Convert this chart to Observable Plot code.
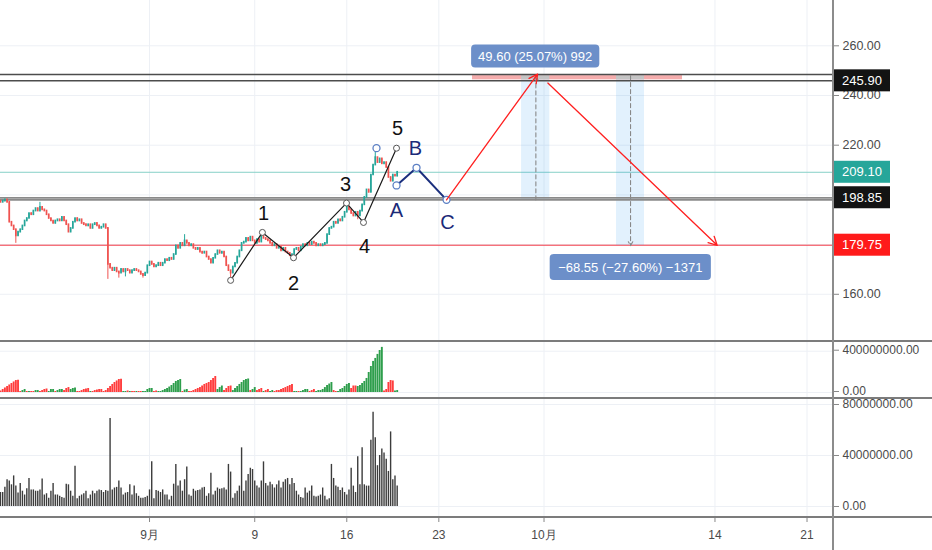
<!DOCTYPE html>
<html><head><meta charset="utf-8">
<script src="https://cdn.jsdelivr.net/npm/d3@7"></script>
<script src="https://cdn.jsdelivr.net/npm/@observablehq/plot@0.6"></script>
<style>
body{margin:0;background:#fff;}
#chart{position:relative;width:932px;height:550px;overflow:hidden;background:#fff;font-family:"Liberation Sans",Arial,sans-serif;}
.panel{position:absolute;left:0;}
.sep{position:absolute;left:0;width:932px;height:2px;background:#7c7c7c;}
.vsep{position:absolute;left:832px;top:0;width:1.5px;height:550px;background:#8c8c8c;}
svg{overflow:visible;}
</style></head><body><div id="chart"></div>
<script>
// ---------- data ----------
const firstTime = "2019-08-20T16:00Z";   // first 4h candle
const candleHours = 4;
const firstOpen = 197.5;
const closes = [
197,197.5,198,197,189,187.5,186,183.5,185,186,
187.5,189.5,190.5,192.5,192,193.5,194.5,193.5,195,194,
193.5,192,190.5,189.5,188.5,189.5,190,189.5,191,189.5,
188,185,186.5,189,190.5,189.5,190,188.5,188,187.5,
188,186.5,188,188.5,187.5,186.5,187,188,186.5,172,
170.5,169.5,170.5,169,168.5,170,169,170,169.5,168.5,
169.5,170,169.5,169,168,167.5,168.5,171.5,173,172,
171,171.5,172.5,171.5,172.5,174,173.5,174.5,174,176,
179.5,178.5,180.5,179.5,181.5,180.5,179.5,180,178.5,178,
178.5,177,176.5,177,175,174,172.5,174.5,176,177.5,
176.5,177,175,171.5,169.5,168.5,171,172.5,175,177.5,
180.5,181,182.5,181.5,183,181.5,180.5,182,181,183.5,
182.5,182,181.5,180.5,179.5,180,178.5,179,177.5,178.5,
177,176.5,175.5,176,178,178.5,177.5,179,180,179.5,
180.5,180,181,180.5,179.5,180,179.5,180,180.5,184,
186.5,187,189,188.5,190,189.5,191,193,195,194,
192.5,191.5,193,191.5,193.5,196,199,202,201,208,
212,215,213,214.5,212.5,213,211,207,205.5,208,
207.5,209.1];
const wickIndex = [7,18,49,54,57,65,84,105,119,133,158,163,171];
const wickHigh  = [null,197,null,null,null,null,184,null,185.5,null,196.8,null,219];
const wickLow   = [180.5,null,166,166.5,167,166.5,null,165.6,null,174.8,null,190,null];

// indicator panel (millions, sign = colour: + green, - red)
const indicator = [
-15,-29,-44,-58,-73,-87,-102,-116,-119,-10,
19,29,-10,10,-10,-10,19,19,-10,-19,
-29,-34,10,29,29,-10,19,29,29,-19,
-39,-48,29,39,44,-10,-10,-19,-29,-34,
-39,10,-10,-19,-24,-29,-29,-10,-19,-39,
-58,-78,-97,-112,-126,-129,10,10,-15,10,
-10,-10,10,-10,-10,10,10,29,39,39,
-10,-15,10,10,19,29,39,53,68,87,
107,116,126,-10,24,29,-10,-10,-19,-29,
-39,-48,-63,-78,-87,-97,-116,-136,-155,29,
48,63,-19,-39,-58,-63,19,39,58,78,
97,116,126,131,-19,29,48,-19,-29,-39,
10,-19,-29,10,19,-10,-19,-19,-29,-39,
-48,-58,-68,-78,10,10,-10,10,19,29,
29,-10,-19,-29,10,19,19,29,48,68,
82,97,-19,-10,10,29,39,58,78,87,
-39,-63,-63,58,68,87,107,136,194,252,
301,330,369,407,437,-15,-29,-97,-116,-112,
15,19];

// volume panel (millions)
const volume = [
11,11,15,21,20,17,24,16,10.5,18,
12,9,14,22,13,13,12,12,13,21.5,
9,10,6.5,12,18,9,9,8,7,6.5,
17.5,17,12,8,31.5,6,8,9,10,12,
6,9,12,10,12,13,12.5,11,12.5,12,
69,13,14.5,15,20,14.5,9,10.5,11,17,
9,16,10,8,6.5,6.5,7,8,13,35,
6,12.5,12,11,13,9,9,5,8,17.5,
33,16,20,12,21,31,9,8,13.5,12,
12.5,13,14.5,15,8,10,26,9,12,14.5,
13.5,14,14.5,13,33,27,6.5,10,12,16,
46,12,20,25,30,29,20,16,14.5,20,
35,18,16,19,17,14.5,17,20,14.5,19,
21,22,17,22,18,12,9,7,6.5,14.5,
10.5,12,16,8,7.5,8,9,14.5,8,5,
6,33,22,16,15,12.5,14.5,11,9,13,
30,16,11,39,17,46,17,16,16,52,
74,54,32,40,45,42,37,27.5,58.5,21,
24,16];

// axes
const xDomain = ["2019-08-20T16:00Z","2019-10-23T00:20Z"];
const xTickDates = ["2019-09-01T00:00Z","2019-09-09T00:00Z","2019-09-16T00:00Z","2019-09-23T00:00Z","2019-10-01T00:00Z","2019-10-14T00:00Z","2019-10-21T00:00Z"];
const xTickLabels = ["9月","9","16","23","10月","14","21"];
const priceDomain = [141.0, 278.23];
const priceGrid = [160,180,200,220,240,260];
const priceTicks = [160,220,240,260];
const indDomain = [-58, 494];
const indTicks = [0, 400];
const volDomain = [-8.63, 84.7];
const volTicks = [0, 40, 80];

// drawn lines
const darkLevels = [248.5, 245.9];
const greyLevels = [198.8, 198.0];
const tealLevel = 209.10;
const redLevel = 179.75;
const priceTags = [245.90, 209.10, 198.85, 179.75];
const priceTagColors = ["#131313", "#26a69a", "#131313", "#ff1a1a"];

// Elliott wave
const waveDates = ["2019-09-07T04:00Z","2019-09-09T14:00Z","2019-09-11T22:48Z","2019-09-15T23:30Z","2019-09-17T06:30Z","2019-09-19T18:48Z"];
const wavePrices = [165.6, 184.9, 174.7, 196.7, 188.9, 218.8];
const waveLabels = ["1","2","3","4","5"];
const waveLabelDates = ["2019-09-09T16:00Z","2019-09-11T22:48Z","2019-09-15T21:40Z","2019-09-17T08:20Z","2019-09-19T20:40Z"];
const waveLabelPrices = [192.5, 164.4, 204.2, 179.2, 226.7];
const abcDates = ["2019-09-19T18:48Z","2019-09-21T07:18Z","2019-09-23T14:04Z"];
const abcPrices = [203.8, 210.9, 198.0];
const abcTopDate = "2019-09-18T06:15Z";
const abcTopPrice = 218.8;
const abcLabels = ["A","B","C"];
const abcLabelDates = ["2019-09-19T18:48Z","2019-09-21T05:30Z","2019-09-23T15:50Z"];
const abcLabelPrices = [193.7, 218.7, 188.9];

// projection
const projStartDates = ["2019-09-23T14:04Z","2019-10-01T06:58Z"];
const projStartPrices = [198.0, 245.0];
const projEndDates = ["2019-09-30T12:15Z","2019-10-14T04:05Z"];
const projEndPrices = [248.6, 179.7];
const rangeStart = ["2019-09-29T06:58Z","2019-10-06T12:17Z"];
const rangeEnd = ["2019-10-01T10:34Z","2019-10-08T15:22Z"];
const rangeFrom = [198.0, 248.0];
const rangeTo = [247.8, 179.6];
const rangeMid = ["2019-09-30T09:07Z","2019-10-07T13:55Z"];
const targetBandDates = ["2019-09-25T13:27Z","2019-10-11T12:46Z"];
const targetBandPrices = [246.3, 248.0];
const calloutTexts = ["49.60 (25.07%) 992", "\u221268.55 (\u221227.60%) \u22121371"];
const calloutDates = ["2019-09-30T08:50Z","2019-10-07T14:20Z"];
const calloutPrices = [255.7, 170.8];

// ---------- build ----------
const D = s => new Date(s);
const t0 = +D(firstTime);
const candles = closes.map((c, i) => {
  const o = i ? closes[i-1] : firstOpen;
  let hi = Math.max(o, c), lo = Math.min(o, c);
  const k = wickIndex.indexOf(i);
  if (k >= 0) { if (wickHigh[k] != null) hi = wickHigh[k]; if (wickLow[k] != null) lo = wickLow[k]; }
  return {date: new Date(t0 + i*candleHours*3600e3), open: o, close: c, high: hi, low: lo, up: c >= o};
});
const ind = indicator.map((v, i) => ({date: candles[i].date, v: Math.abs(v), up: v >= 0}));
const vol = volume.map((v, i) => ({date: candles[i].date, v}));
const xTicks = xTickDates.map(D);
const labelMap = new Map(xTicks.map((d, i) => [+d, xTickLabels[i]]));
const wave = waveDates.map((d, i) => ({date: D(d), p: wavePrices[i]}));
const waveTxt = waveLabels.map((t, i) => ({date: D(waveLabelDates[i]), p: waveLabelPrices[i], t}));
const abc = abcDates.map((d, i) => ({date: D(d), p: abcPrices[i]}));
const abcDots = [{date: D(abcTopDate), p: abcTopPrice}, ...abc];
const abcTxt = abcLabels.map((t, i) => ({date: D(abcLabelDates[i]), p: abcLabelPrices[i], t}));
const proj = projStartDates.map((d, i) => ({x1: D(d), y1: projStartPrices[i], x2: D(projEndDates[i]), y2: projEndPrices[i]}));
const ranges = rangeStart.map((d, i) => ({x1: D(d), x2: D(rangeEnd[i]), y1: rangeFrom[i], y2: rangeTo[i], xm: D(rangeMid[i])}));
const band = [{x1: D(targetBandDates[0]), x2: D(targetBandDates[1]), y1: targetBandPrices[0], y2: targetBandPrices[1]}];
const bandGrey = ranges.map(r => ({x1: r.x1, x2: r.x2, y1: targetBandPrices[0], y2: targetBandPrices[1]}));

const W = 932, MR = 99;
const font = {fontFamily: "'Liberation Sans', Arial, sans-serif", fontSize: "12.5px", color: "#4a4a4a", background: "transparent", overflow: "visible"};
const fontSmall = {...font, fontSize: "12px"};
const xScale = {type: "utc", domain: xDomain.map(D), axis: null};
const GRID = "#edf0f5";
const GREEN = "#26a69a", RED = "#ef5350";

const chart = document.getElementById("chart");
function place(el, top) { const d = document.createElement("div"); d.className = "panel"; d.style.top = top + "px"; d.appendChild(el); chart.appendChild(d); return el; }

// main price panel
const main = Plot.plot({
  width: W, height: 341, marginLeft: 0, marginRight: MR, marginTop: 0, marginBottom: 0,
  style: font,
  x: xScale,
  y: {domain: priceDomain, axis: null},
  marks: [
    Plot.gridX(xTicks, {stroke: GRID, strokeOpacity: 1}),
    Plot.gridY(priceGrid, {stroke: GRID, strokeOpacity: 1}),
    Plot.ruleY([tealLevel], {stroke: "#86d0c8", strokeWidth: 1}),
    Plot.ruleY([redLevel], {stroke: "#f23645", strokeWidth: 1}),
    Plot.rect(ranges, {x1: "x1", x2: "x2", y1: "y1", y2: "y2", fill: "#2196f3", fillOpacity: 0.13}),
    Plot.rect(band, {x1: "x1", x2: "x2", y1: "y1", y2: "y2", fill: "#f08080", fillOpacity: 0.65}),
    Plot.rect(bandGrey, {x1: "x1", x2: "x2", y1: "y1", y2: "y2", fill: "#c4c4c4"}),
    Plot.ruleY(darkLevels, {stroke: "#4d4d4d", strokeWidth: 1.5}),
    Plot.ruleY(greyLevels, {stroke: "#8a8a8a", strokeWidth: 1.8}),
    Plot.arrow(ranges.filter((r, i) => i === 0), {x1: "xm", x2: "xm", y1: "y1", y2: "y2", stroke: "#888", strokeWidth: 1.1, strokeDasharray: "4,3", headLength: 6}),
    Plot.arrow(ranges.filter((r, i) => i === 1), {x1: "xm", x2: "xm", y1: "y1", y2: "y2", stroke: "#888", strokeWidth: 1.1, strokeDasharray: "4,3", headLength: 6}),
    Plot.ruleX(candles, {x: "date", y1: "low", y2: "high", stroke: d => d.up ? GREEN : RED, strokeWidth: 1}),
    Plot.ruleX(candles, {x: "date", y1: "open", y2: "close", stroke: d => d.up ? GREEN : RED, strokeWidth: 1.7, strokeLinecap: "square"}),
    Plot.line(wave, {x: "date", y: "p", stroke: "#1a1a1a", strokeWidth: 1.2}),
    Plot.dot(wave, {x: "date", y: "p", r: 3, fill: "white", stroke: "#555", strokeWidth: 1}),
    Plot.line(abc, {x: "date", y: "p", stroke: "#1b2f7e", strokeWidth: 2}),
    Plot.dot(abcDots, {x: "date", y: "p", r: 3.5, fill: "white", stroke: "#5b7fc4", strokeWidth: 1.3}),
    Plot.arrow(proj, {x1: "x1", y1: "y1", x2: "x2", y2: "y2", stroke: "#ff2020", strokeWidth: 1.3, headLength: 11, headAngle: 55}),
    Plot.text(waveTxt, {x: "date", y: "p", text: "t", fill: "#111", fontSize: 20}),
    Plot.text(abcTxt, {x: "date", y: "p", text: "t", fill: "#1b2a78", fontSize: 20}),
    Plot.axisY(priceTicks, {anchor: "right", label: null, tickFormat: d => d.toFixed(2), tickSize: 5, tickPadding: 4, stroke: "#888"})
  ]
});
place(main, 0);

function scaleFn(plot, name) { const s = plot.scale(name); return s.apply ? (v => s.apply(v)) : d3.scaleLinear(s.domain, s.range); }
const sy = scaleFn(main, "y"), sx = scaleFn(main, "x");
const xr = main.scale("x").range[1];
const svgMain = d3.select(main);
priceTags.forEach((v, i) => {
  const g = svgMain.append("g");
  g.append("rect").attr("x", xr).attr("y", sy(v) - 11).attr("width", 57).attr("height", 22).attr("fill", priceTagColors[i]);
  g.append("text").attr("x", xr + 29).attr("y", sy(v)).attr("dy", "0.35em").attr("text-anchor", "middle")
    .attr("fill", "#fff").attr("font-size", 13).text(v.toFixed(2));
});
calloutTexts.forEach((txt, i) => {
  const g = svgMain.append("g");
  const cx = sx(D(calloutDates[i])), cy = sy(calloutPrices[i]);
  const h = i ? 26 : 23, pad = i ? 8.5 : 7;
  const t = g.append("text").attr("x", cx).attr("y", cy).attr("dy", "0.35em").attr("text-anchor", "middle")
    .attr("fill", "#fff").attr("font-size", 13).text(txt);
  const bb = t.node().getBBox();
  g.insert("rect", "text").attr("x", bb.x - pad).attr("y", cy - h/2).attr("width", bb.width + 2*pad).attr("height", h).attr("rx", 4).attr("fill", "#6c8fc9");
});

// indicator panel
const p2 = Plot.plot({
  width: W, height: 57, marginLeft: 0, marginRight: MR, marginTop: 0, marginBottom: 0,
  style: fontSmall,
  x: xScale,
  y: {domain: indDomain, axis: null},
  marks: [
    Plot.gridX(xTicks, {stroke: GRID, strokeOpacity: 1}),
    Plot.gridY(indTicks, {stroke: GRID, strokeOpacity: 1}),
    Plot.ruleX(ind, {x: "date", y1: 0, y2: "v", stroke: d => d.up ? "#2e9e4c" : "#ff3d3d", strokeWidth: 1.9}),
    Plot.axisY(indTicks, {anchor: "right", label: null, tickFormat: d => (d * 1e6).toFixed(2), tickSize: 5, tickPadding: 4, stroke: "#888", dy: -1})
  ]
});
place(p2, 341);

// volume panel + time axis
const p3 = Plot.plot({
  width: W, height: 152, marginLeft: 0, marginRight: MR, marginTop: 0, marginBottom: 33,
  style: fontSmall,
  x: xScale,
  y: {domain: volDomain, axis: null},
  marks: [
    Plot.gridX(xTicks, {stroke: GRID, strokeOpacity: 1}),
    Plot.gridY(volTicks, {stroke: GRID, strokeOpacity: 1}),
    Plot.ruleX(vol, {x: "date", y1: 0, y2: "v", stroke: "#3c3c3c", strokeWidth: 1.4}),
    Plot.axisY(volTicks, {anchor: "right", label: null, tickFormat: d => (d * 1e6).toFixed(2), tickSize: 5, tickPadding: 4, stroke: "#888"}),
    Plot.axisX(xTicks, {anchor: "bottom", label: null, tickFormat: d => labelMap.get(+d), tickSize: 5, tickPadding: 8, stroke: "#888", fontSize: 12})
  ]
});
place(p3, 398);

[340, 397, 516].forEach(t => { const d = document.createElement("div"); d.className = "sep"; d.style.top = t + "px"; chart.appendChild(d); });
const v = document.createElement("div"); v.className = "vsep"; chart.appendChild(v);
</script>
</body></html>
